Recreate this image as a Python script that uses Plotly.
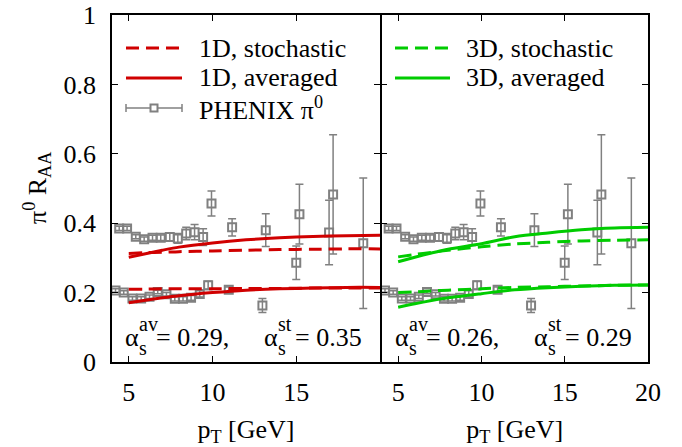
import plotly.graph_objects as go

# ---------------- data ----------------
# PHENIX pi0 R_AA (two data sets)
phx_a_pt = [4.43, 4.9, 5.42, 5.92, 6.42, 6.91, 7.45, 7.93, 8.43, 8.93, 9.44, 9.94, 11.17, 13.18, 15.19, 17.2]
phx_a_raa = [0.385, 0.385, 0.361, 0.354, 0.358, 0.358, 0.360, 0.356, 0.370, 0.374, 0.360, 0.457, 0.388, 0.380, 0.426, 0.483]
phx_a_err = [0.006, 0.006, 0.006, 0.006, 0.007, 0.008, 0.012, 0.014, 0.018, 0.022, 0.024, 0.036, 0.025, 0.047, 0.086, 0.172]

phx_b_pt = [4.21, 4.7, 5.22, 5.74, 6.24, 6.73, 7.25, 7.75, 8.24, 8.72, 9.24, 9.74, 10.97, 12.98, 15.0, 16.96, 19.0]
phx_b_raa = [0.206, 0.200, 0.183, 0.183, 0.188, 0.202, 0.195, 0.182, 0.182, 0.185, 0.196, 0.221, 0.208, 0.163, 0.286, 0.373, 0.342]
phx_b_err = [0.005, 0.005, 0.005, 0.005, 0.005, 0.005, 0.005, 0.006, 0.006, 0.007, 0.009, 0.012, 0.008, 0.020, 0.048, 0.093, 0.188]

# model curves
model_pt = [5, 6, 7, 8, 10, 12, 14, 16, 18, 20]
raa_1d_st_a = [0.313, 0.315, 0.316, 0.318, 0.320, 0.322, 0.324, 0.325, 0.326, 0.326]
raa_1d_av_a = [0.302, 0.312, 0.322, 0.331, 0.343, 0.352, 0.358, 0.362, 0.364, 0.365]
raa_1d_st_b = [0.210, 0.210, 0.211, 0.211, 0.211, 0.212, 0.212, 0.213, 0.213, 0.213]
raa_1d_av_b = [0.171, 0.178, 0.185, 0.191, 0.200, 0.207, 0.211, 0.213, 0.215, 0.215]

raa_3d_st_a = [0.303, 0.310, 0.316, 0.322, 0.332, 0.340, 0.345, 0.349, 0.351, 0.352]
raa_3d_av_a = [0.289, 0.302, 0.314, 0.325, 0.341, 0.361, 0.372, 0.381, 0.386, 0.388]
raa_3d_st_b = [0.200, 0.202, 0.205, 0.207, 0.211, 0.215, 0.217, 0.219, 0.221, 0.222]
raa_3d_av_b = [0.158, 0.168, 0.177, 0.185, 0.197, 0.208, 0.214, 0.218, 0.221, 0.222]

x_ticks_left = [5, 10, 15]
x_ticks_right = [5, 10, 15, 20]

# ---------------- style ----------------
W, H = 682, 447
L, R, T, B = 112, 34, 15, 85
FONT = "'Liberation Serif', 'DejaVu Serif', serif"
FS = 26
RED = "#d00000"
GREEN = "#00cc00"
GRAY = "#808080"
DASH = "13px,7px"
LW = 1.5

fig = go.Figure()


def add_model(xa, ya, y, color, dash):
    fig.add_trace(go.Scatter(x=model_pt, y=y, mode="lines", xaxis=xa, yaxis=ya,
                             line=dict(color=color, width=3, dash=dash, shape="spline", smoothing=0.8),
                             showlegend=False, hoverinfo="skip"))


def add_data(xa, ya):
    for pt, raa, err in ((phx_a_pt, phx_a_raa, phx_a_err), (phx_b_pt, phx_b_raa, phx_b_err)):
        fig.add_trace(go.Scatter(x=pt, y=raa, mode="markers", xaxis=xa, yaxis=ya,
                                 error_y=dict(type="data", array=err, color=GRAY, thickness=1.5, width=4),
                                 marker=dict(symbol="square-open", size=8, color=GRAY, line=dict(width=2, color=GRAY)),
                                 showlegend=False))


add_data("x", "y")
add_model("x", "y", raa_1d_st_a, RED, DASH)
add_model("x", "y", raa_1d_av_a, RED, "solid")
add_model("x", "y", raa_1d_st_b, RED, DASH)
add_model("x", "y", raa_1d_av_b, RED, "solid")

add_data("x2", "y2")
add_model("x2", "y2", raa_3d_st_a, GREEN, DASH)
add_model("x2", "y2", raa_3d_av_a, GREEN, "solid")
add_model("x2", "y2", raa_3d_st_b, GREEN, DASH)
add_model("x2", "y2", raa_3d_av_b, GREEN, "solid")

axis_common = dict(showline=True, linecolor="black", linewidth=LW, mirror="ticks",
                   ticks="inside", ticklen=6, tickwidth=1.2, tickcolor="black",
                   showgrid=False, zeroline=False, automargin=False,
                   tickfont=dict(family=FONT, size=FS, color="black"))

xtitle = dict(text="p<sub>T</sub> [GeV]", font=dict(family=FONT, size=FS, color="black"), standoff=14)
split = 0.5 + LW / (W - L - R)

fig.update_layout(
    width=W, height=H,
    margin=dict(l=L, r=R, t=T, b=B, autoexpand=False),
    paper_bgcolor="white", plot_bgcolor="white",
    font=dict(family=FONT, size=FS, color="black"),
    xaxis=dict(domain=[0, 0.5], range=[4, 20], tickvals=x_ticks_left, anchor="y",
               ticklabelstandoff=6, title=xtitle, **axis_common),
    xaxis2=dict(domain=[split, 1], range=[4, 20], tickvals=x_ticks_right, anchor="y2",
                ticklabelstandoff=6, title=xtitle, **axis_common),
    yaxis=dict(domain=[0, 1], range=[0, 1], dtick=0.2, anchor="x", ticklabelstandoff=9,
               **axis_common),
    yaxis2=dict(domain=[0, 1], range=[0, 1], dtick=0.2, anchor="x2", matches="y",
                showticklabels=False, **axis_common),
)


def px(x):
    return (x - L) / (W - L - R)


def py(y):
    return (H - B - y) / (H - T - B)


def text(x, y, s, size=FS):
    fig.add_annotation(x=px(x), y=py(y), xref="paper", yref="paper", text=s, showarrow=False,
                       xanchor="left", yanchor="middle", borderpad=0,
                       font=dict(family=FONT, size=size, color="black"))


def line(x0, x1, y, color, dash="solid", width=3):
    fig.add_shape(type="line", xref="paper", yref="paper", x0=px(x0), x1=px(x1), y0=py(y), y1=py(y),
                  line=dict(color=color, width=width, dash=dash))


# y-axis title
fig.add_annotation(x=px(37), y=py(188), xref="paper", yref="paper", text="π<sup>0</sup> R<sub>AA</sub>",
                   showarrow=False, textangle=-90, xanchor="center", yanchor="middle",
                   font=dict(family=FONT, size=FS, color="black"))

# legends (drawn as in the original key box)
rows = [48, 78, 108]
line(126, 182, rows[0], RED, DASH)
line(126, 182, rows[1], RED)
text(198, rows[0], "1D, stochastic")
text(198, rows[1], "1D, averaged")
line(126, 182, rows[2], GRAY, width=1.5)
for xe in (126, 182):
    fig.add_shape(type="line", xref="paper", yref="paper", x0=px(xe), x1=px(xe), y0=py(rows[2] - 4), y1=py(rows[2] + 4),
                  line=dict(color=GRAY, width=1.5))
fig.add_shape(type="rect", xref="paper", yref="paper", x0=px(150.5), x1=px(157.5), y0=py(rows[2] - 3.5), y1=py(rows[2] + 3.5),
              line=dict(color=GRAY, width=2), fillcolor="white")
text(198, rows[2], "PHENIX π<sup>0</sup>")

line(395, 450, rows[0], GREEN, DASH)
line(395, 450, rows[1], GREEN)
text(465, rows[0], "3D, stochastic")
text(465, rows[1], "3D, averaged")

# alpha_s annotations (stacked super/subscripts)
alpha_groups = [
    (124, "av", "= 0.29,"), (263, "st", "= 0.35"),
    (394, "av", "= 0.26,"), (533, "st", "= 0.29"),
]
for x0, sup, rest in alpha_groups:
    text(x0, 337, "α")
    text(x0 + 14, 324, sup, size=20)
    text(x0 + 14, 348, "s", size=20)
    text(x0 + 31, 337, rest)

fig.write_html("out.html", config={"displayModeBar": False},
               post_script="document.body.style.margin='0px';")
